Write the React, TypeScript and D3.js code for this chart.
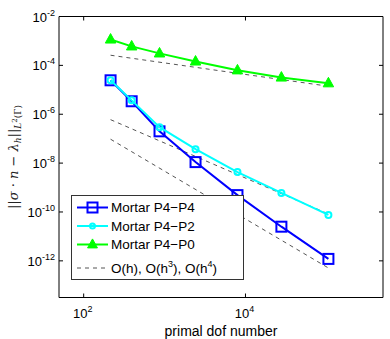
import React from "react";
import * as d3 from "d3";

const dofs = [215, 392, 866, 2414, 7962, 27800, 106000];
const errP4P4 = [2.45e-5, 3.4e-6, 2.0e-7, 1.1e-8, 4.9e-10, 2.5e-11, 1.2e-12];
const errP4P2 = [2.45e-5, 3.7e-6, 2.95e-7, 3.7e-8, 4.3e-9, 6.0e-10, 7.6e-11];
const errP4P0 = [1.15e-3, 6.0e-4, 3.1e-4, 1.45e-4, 6.3e-5, 3.2e-5, 1.86e-5];
// reference slopes: values at first and last dof
const refOh = [2.6e-4, 1.4e-5];
const refOh3 = [6.0e-7, 8.3e-11];
const refOh4 = [9.5e-8, 5.1e-13];

const xTicks = [1e2, 1e4];
const xTickExp = ["2", "4"];
const yTicks = [1e-2, 1e-4, 1e-6, 1e-8, 1e-10, 1e-12];
const yTickExp = ["-2", "-4", "-6", "-8", "-10", "-12"];
const legendLabels = ["Mortar P4\u2212P4", "Mortar P4\u2212P2", "Mortar P4\u2212P0"];

const W = 390, H = 339;
const L = 59, R = 383, T = 16.5, B = 297.5;
const font = "Liberation Sans, Arial, sans-serif";

export default function App() {
  const x = d3.scaleLog().domain([Math.pow(10, 1.695), Math.pow(10, 5.7)]).range([L, R]);
  const y = d3.scaleLog().domain([Math.pow(10, -13.5), 1e-2]).range([B, T]);
  const line = d3.line<[number, number]>().x(d => x(d[0])).y(d => y(d[1]));
  const pts = (vals: number[]) => dofs.map((d, i) => [d, vals[i]] as [number, number]);
  const refPts = (r: number[]) => [[dofs[0], r[0]], [dofs[dofs.length - 1], r[1]]] as [number, number][];

  const tri = (cx: number, cy: number, s: number) =>
    `M${cx},${cy - s * 0.62}L${cx + s * 0.55},${cy + s * 0.38}L${cx - s * 0.55},${cy + s * 0.38}Z`;

  const legX = 71, legY = 195, legW = 172, legH = 84;
  const rowY = [207.5, 226, 244.5, 268];

  return (
    <svg width={W} height={H} style={{ position: "absolute", left: 0, top: 0, background: "#fff" }} fontFamily={font}>
      <rect x={0} y={0} width={W} height={H} fill="#fff" />
      {[refOh, refOh3, refOh4].map((r, i) => (
        <path key={i} d={line(refPts(r))!} fill="none" stroke="#555" strokeWidth={1} strokeDasharray="4,4" />
      ))}
      <path d={line(pts(errP4P0))!} fill="none" stroke="#00ff00" strokeWidth={2} />
      {pts(errP4P0).map((p, i) => (
        <path key={i} d={tri(x(p[0]), y(p[1]), 9.5)} fill="#00ff00" stroke="#00ff00" strokeWidth={1} />
      ))}
      <path d={line(pts(errP4P4))!} fill="none" stroke="#0000ff" strokeWidth={2} />
      {pts(errP4P4).map((p, i) => (
        <rect key={i} x={x(p[0]) - 5} y={y(p[1]) - 5} width={10} height={10} fill="none" stroke="#0000ff" strokeWidth={2} />
      ))}
      <path d={line(pts(errP4P2))!} fill="none" stroke="#00ffff" strokeWidth={2} />
      {pts(errP4P2).map((p, i) => (
        <circle key={i} cx={x(p[0])} cy={y(p[1])} r={3} fill="none" stroke="#00ffff" strokeWidth={2} />
      ))}

      <line x1={L} x2={L} y1={T} y2={B} stroke="#000" strokeWidth={1} />
      <line x1={R} x2={R} y1={T} y2={B} stroke="#000" strokeWidth={1} />
      <line x1={L} x2={R} y1={T} y2={T} stroke="#000" strokeWidth={1} />
      <line x1={L} x2={R} y1={B} y2={B} stroke="#000" strokeWidth={1} />
      {xTicks.map((t, i) => (
        <g key={i}>
          <line x1={x(t)} x2={x(t)} y1={B} y2={B - 4} stroke="#000" />
          <line x1={x(t)} x2={x(t)} y1={T} y2={T + 4} stroke="#000" />
          <text x={x(t) - 1} y={318} fontSize={13} textAnchor="middle">
            10<tspan fontSize={9} dy={-6}>{xTickExp[i]}</tspan>
          </text>
        </g>
      ))}
      {yTicks.map((t, i) => (
        <g key={i}>
          <line x1={L} x2={L + 4} y1={y(t)} y2={y(t)} stroke="#000" />
          <line x1={R} x2={R - 4} y1={y(t)} y2={y(t)} stroke="#000" />
          <text x={55} y={y(t) + 5} fontSize={13} textAnchor="end">
            10<tspan fontSize={9} dy={-6}>{yTickExp[i]}</tspan>
          </text>
        </g>
      ))}
      <text x={(L + R) / 2} y={336} fontSize={14} textAnchor="middle">primal dof number</text>
      <text transform={`translate(18,${(T + B) / 2}) rotate(-90)`} fontSize={13} textAnchor="middle" fontFamily="DejaVu Serif, serif" fill="#222">
        ||<tspan fontStyle="italic">σ</tspan> · <tspan fontStyle="italic">n</tspan> − <tspan fontStyle="italic">λ</tspan><tspan fontStyle="italic" fontSize={9} dy={3}>h</tspan><tspan dy={-3}>||</tspan><tspan fontStyle="italic" fontSize={9} dy={3}>L</tspan><tspan fontSize={7} dy={-4}>2</tspan><tspan fontSize={9} dy={4}>(Γ)</tspan>
      </text>

      <rect x={legX + 0.5} y={legY + 0.5} width={legW} height={legH} fill="#fff" stroke="#333" strokeWidth={1} />
      <line x1={77} x2={108} y1={rowY[0]} y2={rowY[0]} stroke="#0000ff" strokeWidth={2} />
      <rect x={92.5 - 5} y={rowY[0] - 5} width={10} height={10} fill="none" stroke="#0000ff" strokeWidth={2} />
      <line x1={77} x2={108} y1={rowY[1]} y2={rowY[1]} stroke="#00ffff" strokeWidth={2} />
      <circle cx={92.5} cy={rowY[1]} r={2.5} fill="none" stroke="#00ffff" strokeWidth={2} />
      <line x1={77} x2={108} y1={rowY[2]} y2={rowY[2]} stroke="#00ff00" strokeWidth={2} />
      <path d={tri(92.5, rowY[2], 9)} fill="#00ff00" stroke="#00ff00" />
      <line x1={77} x2={108} y1={rowY[3]} y2={rowY[3]} stroke="#555" strokeWidth={1} strokeDasharray="4,4" />
      {legendLabels.map((lab, i) => (
        <text key={i} x={111} y={rowY[i] + 4.5} fontSize={13.5}>{lab}</text>
      ))}
      <text x={111} y={rowY[3] + 4.5} fontSize={13.5}>
        O(h), O(h<tspan fontSize={9} dy={-6}>3</tspan><tspan dy={6}>), O(h</tspan><tspan fontSize={9} dy={-6}>4</tspan><tspan dy={6}>)</tspan>
      </text>
    </svg>
  );
}
